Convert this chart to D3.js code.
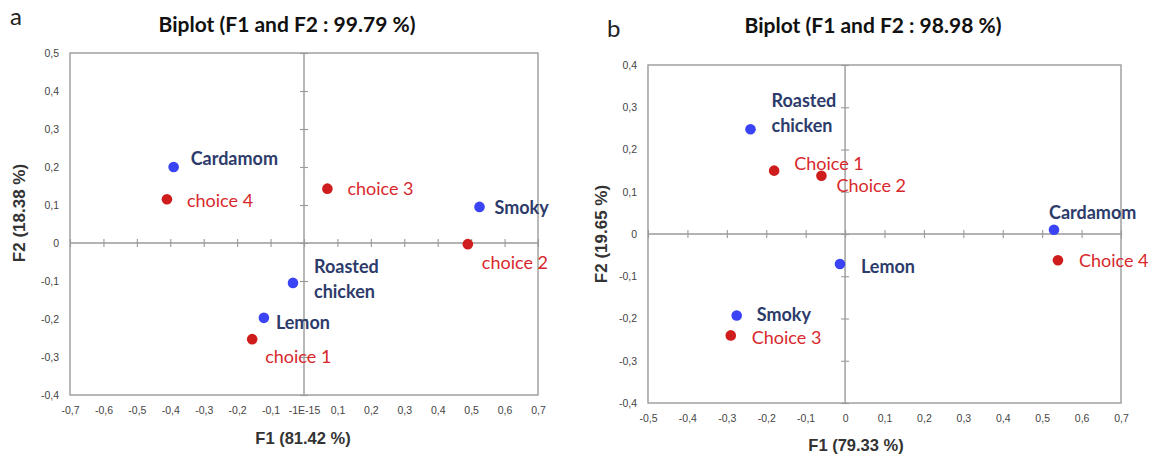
<!DOCTYPE html>
<html>
<head>
<meta charset="utf-8">
<script src="https://cdn.jsdelivr.net/npm/d3@7"></script>
<style>
  html, body { margin: 0; padding: 0; background: #fff; }
  svg { display: block; }
</style>
</head>
<body>
<svg id="chart" width="1151" height="455"></svg>
<script>
// ---------- Data ----------
// Panel a
const aTitle = "Biplot (F1 and F2 : 99.79 %)";
const aXTitle = "F1 (81.42 %)";
const aYTitle = "F2 (18.38 %)";
const aXTicks = [-0.7, -0.6, -0.5, -0.4, -0.3, -0.2, -0.1, 0, 0.1, 0.2, 0.3, 0.4, 0.5, 0.6, 0.7];
const aXTickLabels = ["-0,7", "-0,6", "-0,5", "-0,4", "-0,3", "-0,2", "-0,1", "-1E-15", "0,1", "0,2", "0,3", "0,4", "0,5", "0,6", "0,7"];
const aYTicks = [-0.4, -0.3, -0.2, -0.1, 0, 0.1, 0.2, 0.3, 0.4, 0.5];
const aYTickLabels = ["-0,4", "-0,3", "-0,2", "-0,1", "0", "0,1", "0,2", "0,3", "0,4", "0,5"];
const aVarNames = ["Cardamom", "Smoky", "Roasted\nchicken", "Lemon"];
const aVarF1 = [-0.39, 0.525, -0.033, -0.12];
const aVarF2 = [0.20, 0.095, -0.105, -0.197];
const aObsNames = ["choice 4", "choice 3", "choice 2", "choice 1"];
const aObsF1 = [-0.41, 0.07, 0.49, -0.155];
const aObsF2 = [0.115, 0.143, -0.003, -0.253];

// Panel b
const bTitle = "Biplot (F1 and F2 : 98.98 %)";
const bXTitle = "F1 (79.33 %)";
const bYTitle = "F2 (19.65 %)";
const bXTicks = [-0.5, -0.4, -0.3, -0.2, -0.1, 0, 0.1, 0.2, 0.3, 0.4, 0.5, 0.6, 0.7];
const bXTickLabels = ["-0,5", "-0,4", "-0,3", "-0,2", "-0,1", "0", "0,1", "0,2", "0,3", "0,4", "0,5", "0,6", "0,7"];
const bYTicks = [-0.4, -0.3, -0.2, -0.1, 0, 0.1, 0.2, 0.3, 0.4];
const bYTickLabels = ["-0,4", "-0,3", "-0,2", "-0,1", "0", "0,1", "0,2", "0,3", "0,4"];
const bVarNames = ["Roasted\nchicken", "Cardamom", "Lemon", "Smoky"];
const bVarF1 = [-0.24, 0.53, -0.013, -0.275];
const bVarF2 = [0.248, 0.01, -0.071, -0.193];
const bObsNames = ["Choice 1", "Choice 2", "Choice 4", "Choice 3"];
const bObsF1 = [-0.18, -0.06, 0.54, -0.29];
const bObsF2 = [0.15, 0.138, -0.062, -0.24];

// ---------- Layout (label placement relative to the point) ----------
const aVarLabelOff = [[17, -9], [15, 0], [21, -17], [12, 4]];
const aObsLabelOff = [[20, 1], [20, -1], [14, 18], [13, 17]];
const bVarLabelOff = [[21, -29], [-5, -18], [21, 2], [20, -2]];
const bObsLabelOff = [[20, -8], [15, 9], [21, 0], [21, 2]];

const svg = d3.select("#chart");
const LABEL_FONT = "Lato, 'Open Sans', sans-serif";
const AXIS_FONT = "'Liberation Sans', Arial, sans-serif";
const VAR_DOT = "#3b44f5";
const OBS_DOT = "#cf1d1d";
const VAR_TXT = "#2d3b6b";
const OBS_TXT = "#d8282c";
const GRID = "#9a9a9a";

function panel(cfg) {
  const g = svg.append("g");
  const x = d3.scaleLinear().domain(cfg.xDomain).range([cfg.left, cfg.right]);
  const y = d3.scaleLinear().domain(cfg.yDomain).range([cfg.bottom, cfg.top]);

  // frame
  g.append("rect")
    .attr("x", cfg.left).attr("y", cfg.top)
    .attr("width", cfg.right - cfg.left).attr("height", cfg.bottom - cfg.top)
    .attr("fill", "none").attr("stroke", GRID).attr("stroke-width", 1.4);

  // zero axes with cross ticks
  const xAxis = d3.axisBottom(x).tickValues(cfg.xTicks).tickSize(8).tickFormat("");
  const gx = g.append("g").attr("transform", `translate(0,${y(0) - 4})`).call(xAxis);
  gx.select(".domain").remove();
  gx.selectAll("line").attr("stroke", GRID).attr("stroke-width", 1.1);
  g.append("line").attr("x1", cfg.left).attr("x2", cfg.right)
    .attr("y1", y(0)).attr("y2", y(0)).attr("stroke", GRID).attr("stroke-width", 1.4);

  const yAxis = d3.axisLeft(y).tickValues(cfg.yTicks).tickSize(8).tickFormat("");
  const gy = g.append("g").attr("transform", `translate(${x(0) + 4},0)`).call(yAxis);
  gy.select(".domain").remove();
  gy.selectAll("line").attr("stroke", GRID).attr("stroke-width", 1.1);
  g.append("line").attr("y1", cfg.top).attr("y2", cfg.bottom)
    .attr("x1", x(0)).attr("x2", x(0)).attr("stroke", GRID).attr("stroke-width", 1.4);

  // tick labels
  const xl = d3.axisBottom(x).tickValues(cfg.xTicks).tickSize(0)
    .tickFormat((d, i) => cfg.xTickLabels[i]);
  const gxl = g.append("g").attr("transform", `translate(0,${cfg.bottom + 16})`).call(xl);
  gxl.select(".domain").remove();
  gxl.selectAll("text").attr("font-family", AXIS_FONT).attr("font-size", 10.5)
    .attr("fill", "#444").attr("dy", "0.32em").attr("y", 0);

  const yl = d3.axisLeft(y).tickValues(cfg.yTicks).tickSize(0)
    .tickFormat((d, i) => cfg.yTickLabels[i]);
  const gyl = g.append("g").attr("transform", `translate(${cfg.left - 11},0)`).call(yl);
  gyl.select(".domain").remove();
  gyl.selectAll("text").attr("font-family", AXIS_FONT).attr("font-size", 10.5)
    .attr("fill", "#444").attr("x", 0);

  // titles
  g.append("text").attr("x", cfg.titleX).attr("y", cfg.titleY)
    .attr("text-anchor", "middle").attr("font-family", LABEL_FONT)
    .attr("font-weight", "bold").attr("font-size", 21).attr("fill", "#111")
    .text(cfg.title);
  g.append("text").attr("x", cfg.letterX).attr("y", cfg.letterY)
    .attr("font-family", LABEL_FONT).attr("font-size", 24).attr("fill", "#222")
    .text(cfg.letter);
  g.append("text").attr("x", cfg.xTitleX).attr("y", cfg.xTitleY)
    .attr("text-anchor", "middle").attr("font-family", AXIS_FONT)
    .attr("font-weight", "bold").attr("font-size", 16.5).attr("fill", "#333")
    .text(cfg.xTitle);
  g.append("text")
    .attr("transform", `translate(${cfg.yTitleX},${cfg.yTitleY}) rotate(-90)`)
    .attr("text-anchor", "middle").attr("font-family", AXIS_FONT)
    .attr("font-weight", "bold").attr("font-size", 17).attr("fill", "#333")
    .text(cfg.yTitle);

  function points(names, f1, f2, offs, dot, txt, bold) {
    const data = names.map((n, i) => ({ n, x: f1[i], y: f2[i], off: offs[i] }));
    g.selectAll(null).data(data).enter().append("circle")
      .attr("cx", d => x(d.x)).attr("cy", d => y(d.y)).attr("r", 5.3)
      .attr("fill", dot);
    const t = g.selectAll(null).data(data).enter().append("text")
      .attr("font-family", LABEL_FONT).attr("font-size", 18)
      .attr("font-weight", bold ? "bold" : "normal").attr("fill", txt)
      .attr("dominant-baseline", "central");
    t.each(function (d) {
      const lines = d.n.split("\n");
      const sel = d3.select(this);
      lines.forEach((ln, k) => {
        sel.append("tspan")
          .attr("x", x(d.x) + d.off[0])
          .attr("y", y(d.y) + d.off[1] + k * 25)
          .text(ln);
      });
    });
  }
  points(cfg.varNames, cfg.varF1, cfg.varF2, cfg.varOff, VAR_DOT, VAR_TXT, true);
  points(cfg.obsNames, cfg.obsF1, cfg.obsF2, cfg.obsOff, OBS_DOT, OBS_TXT, false);
}

panel({
  left: 70, right: 538, top: 53, bottom: 395,
  xDomain: [-0.7, 0.7], yDomain: [-0.4, 0.5],
  xTicks: aXTicks, xTickLabels: aXTickLabels, yTicks: aYTicks, yTickLabels: aYTickLabels,
  title: aTitle, titleX: 287, titleY: 32, letter: "a", letterX: 10, letterY: 25,
  xTitle: aXTitle, xTitleX: 303, xTitleY: 444,
  yTitle: aYTitle, yTitleX: 25, yTitleY: 213,
  varNames: aVarNames, varF1: aVarF1, varF2: aVarF2, varOff: aVarLabelOff,
  obsNames: aObsNames, obsF1: aObsF1, obsF2: aObsF2, obsOff: aObsLabelOff
});

panel({
  left: 648, right: 1121, top: 65, bottom: 403,
  xDomain: [-0.5, 0.7], yDomain: [-0.4, 0.4],
  xTicks: bXTicks, xTickLabels: bXTickLabels, yTicks: bYTicks, yTickLabels: bYTickLabels,
  title: bTitle, titleX: 873, titleY: 33, letter: "b", letterX: 607, letterY: 37,
  xTitle: bXTitle, xTitleX: 856, xTitleY: 451,
  yTitle: bYTitle, yTitleX: 607, yTitleY: 234,
  varNames: bVarNames, varF1: bVarF1, varF2: bVarF2, varOff: bVarLabelOff,
  obsNames: bObsNames, obsF1: bObsF1, obsF2: bObsF2, obsOff: bObsLabelOff
});
</script>
</body>
</html>
